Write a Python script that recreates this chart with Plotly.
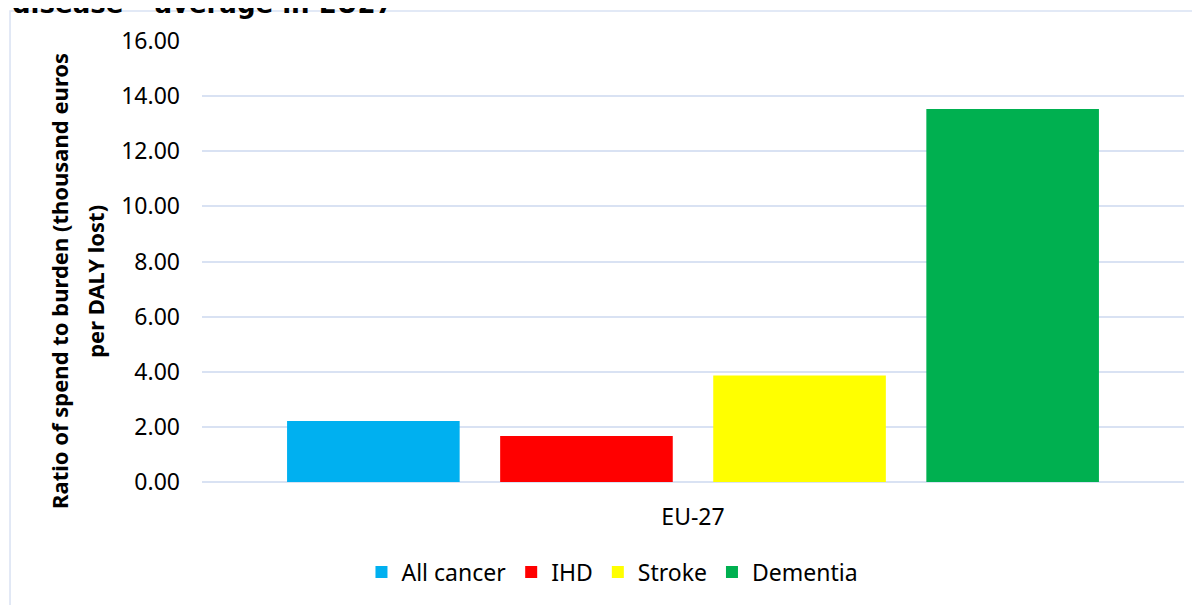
import plotly.graph_objects as go

# values
categories = ["EU-27"]
series_names = ["All cancer", "IHD", "Stroke", "Dementia"]
series_values = [2.21, 1.67, 3.86, 13.53]
series_colors = ["#00B0F0", "#FF0000", "#FFFF00", "#00B050"]
y_ticks = [0, 2, 4, 6, 8, 10, 12, 14, 16]

FONT = "Noto Sans"
GRID = "#D9E2F3"

fig = go.Figure()
for name, val, col in zip(series_names, series_values, series_colors):
    fig.add_trace(go.Bar(x=categories, y=[val], name=name, marker_color=col,
                         marker_line_width=0))

# page body has an 8px margin, so the figure is 8px smaller and shifted
fig.update_layout(
    width=1192, height=597,
    margin=dict(l=194, r=16, t=33, b=123),
    paper_bgcolor="white", plot_bgcolor="white",
    barmode="group", bargap=0.132, bargroupgap=0.19,
    font=dict(family=FONT, size=23, color="#000000"),
    showlegend=True,
    legend=dict(orientation="h", x=0.418, xanchor="center", y=-0.204, yanchor="middle",
                font=dict(family=FONT, size=23), traceorder="normal"),
)

fig.update_yaxes(range=[0, 16], tickvals=y_ticks, tickformat=".2f",
                 showgrid=True, gridcolor=GRID, gridwidth=1.5,
                 zeroline=True, zerolinecolor=GRID, zerolinewidth=1.5,
                 showline=False, ticks="", ticklabelstandoff=21,
                 tickfont=dict(family=FONT, size=23))
fig.update_xaxes(showline=False, ticks="", ticklabelstandoff=19,
                 tickfont=dict(family=FONT, size=23))

# y axis title, two lines placed by hand like in the source chart
ytitle = ["Ratio of spend to burden (thousand euros", "per DALY lost)"]
for line, xpos in zip(ytitle, [-0.1456, -0.109]):
    fig.add_annotation(text="<b>" + line + "</b>",
                       xref="paper", yref="paper", x=xpos, y=0.456,
                       xanchor="center", yanchor="middle", textangle=-90,
                       showarrow=False, font=dict(family=FONT, size=22, color="#000000"))

# cut-off chart title at the top (only its lower part shows in the source)
fig.add_annotation(text="<b>disease – average in EU27</b>",
                   xref="paper", yref="paper", x=-0.1955, y=1.046,
                   xanchor="left", yanchor="bottom", showarrow=False,
                   font=dict(family="DejaVu Sans", size=26, color="#000000"))

# chart area border
fig.add_shape(type="rect", xref="paper", yref="paper",
              x0=-0.1955, x1=1.05, y0=-0.4, y1=1.068,
              line=dict(color=GRID, width=1.5), layer="below")

fig.write_html("out.html")
